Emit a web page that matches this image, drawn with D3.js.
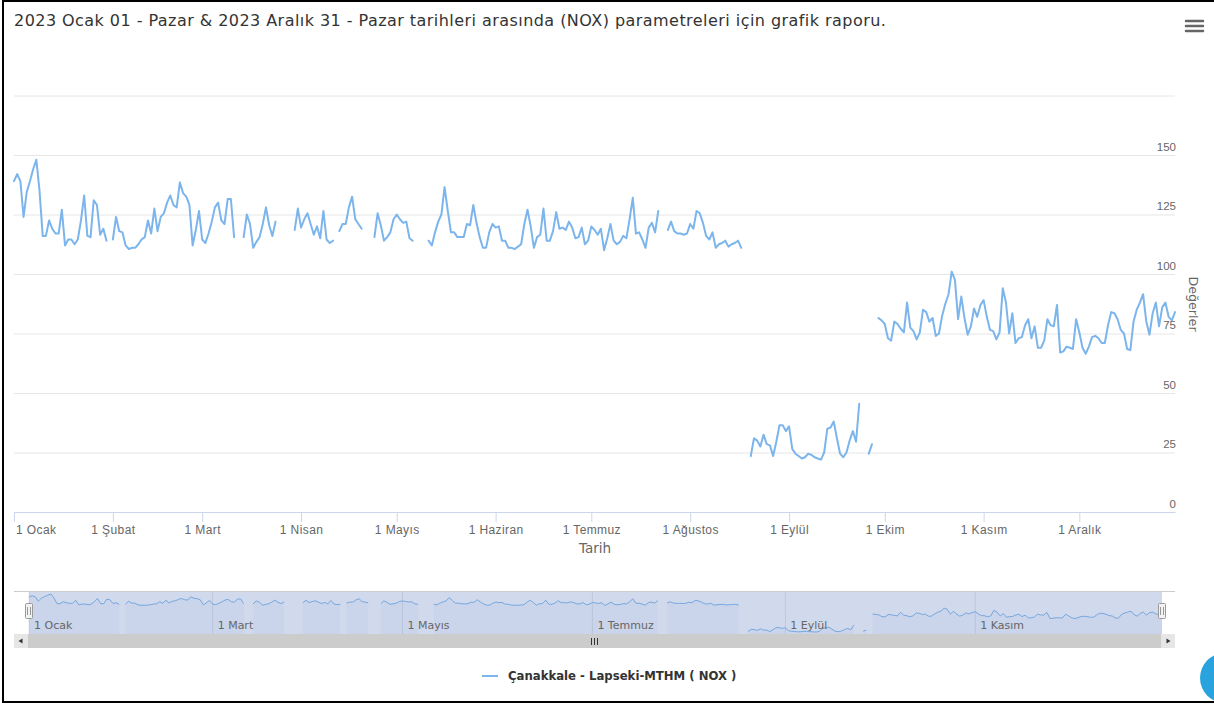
<!DOCTYPE html>
<html>
<head>
<meta charset="utf-8">
<script src="https://cdnjs.cloudflare.com/ajax/libs/d3/7.8.5/d3.min.js"></script>
<style>
body { margin: 0; background: #fff; }
svg { display: block; font-family: "DejaVu Sans", Verdana, sans-serif; }
</style>
</head>
<body>
<svg id="chart"></svg>
<script>
var width = 1214;
var height = 704;

var titleText = "2023 Ocak 01 - Pazar & 2023 Aralık 31 - Pazar tarihleri arasında (NOX) parametreleri için grafik raporu.";
var seriesName = "Çanakkale - Lapseki-MTHM ( NOX )";
var monthNames = ["Ocak", "Şubat", "Mart", "Nisan", "Mayıs", "Haziran", "Temmuz", "Ağustos", "Eylül", "Ekim", "Kasım", "Aralık"];
var navMonths = [0, 2, 4, 6, 8, 10];
var yGrid = [0, 25, 50, 75, 100, 125, 150, 175];
var yLabels = [0, 25, 50, 75, 100, 125, 150];

// daily NOX values, one array per month (null = no data)
var ocak = [139, 142, 139, 124, 134.5, 139, 144, 148, 135, 116, 116, 122.5, 119, 117, 117, 127, 112, 114.5, 114.5, 112.5, 114.5, 122.5, 133, 116, 115.5, 131, 129, 116.5, 119, 114, null];
var subat = [114.5, 124, 118, 117.5, 112, 110.5, 111, 111, 112.5, 114.5, 115.5, 122.5, 117, 127.5, 118, 124, 125.5, 130, 133, 129, 128, 138.5, 134, 132.5, 129, 112, 118.5, 126.5];
var mart = [114.5, 113, 117, 122, 128, 130, 122.5, 121, 131.5, 131.5, 115.5, null, null, 115.5, 125, 121, 111, 113.5, 115.5, 121, 128, 120.5, 116, 122, null, null, null, null, null, 118.5, 127.5];
var nisan = [119.5, 123, 125.5, 121, 116.5, 120, 115, 126.5, 114.5, 113, 114, null, 118, 121, 121, 128, 132.5, 123, 121, 119, null, null, null, 115.5, 125.5, 120.5, 114, 115.5, 117.5, 123];
var mayis = [125, 123, 121.5, 122, 115, 114, null, null, null, null, 114, 112, 117.5, 122, 125, 136.5, 126.5, 117.5, 117.5, 115.5, 115.5, 115.5, 121, 120.5, 129, 121.5, 115.5, 111, 111, 117.5, 121];
var haziran = [119.5, 120, 114, 114, 111, 111, 110.5, 111.5, 112.5, 121, 127, 120, 111, 115.5, 116.5, 127.5, 114, 114, 118, 126, 119, 119.5, 118.5, 122, 119.5, 115, 115.5, 119.5, 112.5, 114];
var temmuz = [120, 118.5, 116.5, 119, 110, 115, 121, 114, 112.5, 113.5, 116, 115, 123, 132, 117, 117.5, 114.5, 111, 119.5, 121.5, 117.5, 126.5, null, null, 118.5, 122, 118, 117, 117, 116.5, 117];
var agustos = [121, 119, 126.5, 125.5, 121.5, 116, 114.5, 117.5, 111, 112.5, 113, 114, 111.5, 112.5, 113, 114, 111, null, null, 23.5, 31, 30, 27.5, 32.5, 28.5, 28, 23.5, 29.5, 36.5, 36.5, 34];
var eylul = [36, 26.5, 24.5, 23.5, 22.5, 23, 24.5, 24, 23, 22.5, 22, 25, 35, 35.5, 38, 31, 24.5, 23, 25, 30, 34, 29.5, 45.5, null, null, 24.5, 28.5, null, 81.5, 80.5];
var ekim = [79, 73, 72, 80, 79, 77, 75.5, 88, 77.5, 76, 72.5, 75.5, 85, 84, 80, 81.5, 74, 75, 82.5, 87.5, 91.5, 101, 97.5, 81, 90.5, 81.5, 74.5, 78, 85.5, 82, 87];
var kasim = [89, 82, 76.5, 76, 72.5, 75.5, 94, 88, 75, 83.5, 71, 73, 73.5, 78.5, 81, 73, 78, 69, 69, 72, 81, 78.5, 78, 87, 67, 67.5, 69.5, 69, 68.5, 81];
var aralik = [75.5, 69, 66.5, 69.5, 73.5, 74, 73, 71, 71, 78.5, 84, 83.5, 81, 76.5, 75, 68.5, 68, 80, 85, 88, 91.5, 80, 74.5, 83.5, 88, 78, 86, 88, 82, 80.5, 84];

var values = [].concat(ocak, subat, mart, nisan, mayis, haziran, temmuz, agustos, eylul, ekim, kasim, aralik);
var days = d3.utcDay.range(Date.UTC(2023, 0, 1), Date.UTC(2024, 0, 1));
var data = days.map(function(d, i) { return {date: d, v: values[i]}; });

var svg = d3.select("#chart").attr("width", width).attr("height", height);

var x = d3.scaleUtc().domain([days[0], days[days.length - 1]]).range([14, 1175]);
var y = d3.scaleLinear().domain([0, 175]).range([512, 95.5]);

// title
svg.append("text").attr("x", 14).attr("y", 26)
    .attr("font-size", 16).attr("letter-spacing", 0.45).attr("fill", "#333").text(titleText);

// context menu button
[21, 26, 31].forEach(function(yy) {
    svg.append("line").attr("x1", 1186).attr("x2", 1203).attr("y1", yy).attr("y2", yy)
        .attr("stroke", "#666").attr("stroke-width", 2.5).attr("stroke-linecap", "round");
});

// grid
svg.append("g").attr("transform", "translate(14,0)")
    .call(d3.axisRight(y).tickValues(yGrid).tickSize(1161).tickFormat(""))
    .call(function(g) {
        g.select(".domain").remove();
        g.selectAll("line").attr("stroke", "#e6e6e6");
    });

// y labels, right side above grid lines
svg.append("g").attr("transform", "translate(1176,0)")
    .call(d3.axisLeft(y).tickValues(yLabels).tickSize(0).tickPadding(0))
    .call(function(g) {
        g.select(".domain").remove();
        g.selectAll("text").attr("dy", "-0.4em").attr("font-size", 11.5)
            .attr("font-family", null).attr("fill", "#666");
    });

svg.append("text").attr("transform", "translate(1189,304) rotate(90)")
    .attr("text-anchor", "middle").attr("font-size", 12.7).attr("fill", "#666").text("Değerler");

// x axis
var monthTicks = d3.utcMonth.range(Date.UTC(2023, 0, 1), Date.UTC(2024, 0, 1));
svg.append("g").attr("transform", "translate(0,512)")
    .call(d3.axisBottom(x).tickValues(monthTicks).tickSize(10).tickSizeOuter(0)
        .tickFormat(function(d) { return "1 " + monthNames[d.getUTCMonth()]; }))
    .call(function(g) {
        g.select(".domain").attr("stroke", "#ccd6eb");
        g.selectAll("line").attr("stroke", "#ccd6eb");
        g.selectAll("text").attr("font-size", 12).attr("letter-spacing", 0.4)
            .attr("font-family", null).attr("fill", "#666");
        // first label would hang off the left side
        g.selectAll("text").each(function() {
            var b = this.getBBox();
            var tx = +d3.select(this.parentNode).attr("transform").match(/translate\(([\d.]+)/)[1];
            if (tx + b.x < 16) d3.select(this).attr("text-anchor", "start").attr("x", 16 - tx);
        });
    });

svg.append("text").attr("x", 595).attr("y", 553).attr("text-anchor", "middle")
    .attr("font-size", 13.5).attr("fill", "#666").text("Tarih");

var line = d3.line()
    .defined(function(d) { return d.v != null; })
    .x(function(d) { return x(d.date); })
    .y(function(d) { return y(d.v); });

svg.append("path").datum(data).attr("d", line)
    .attr("fill", "none").attr("stroke", "#7cb5ec").attr("stroke-width", 2)
    .attr("stroke-linejoin", "round").attr("stroke-linecap", "round");

// navigator
var nx = d3.scaleUtc().domain(x.domain()).range([29, 1162]);
var ny = d3.scaleLinear().domain(d3.extent(values)).range([632, 594]);
var nav = svg.append("g");

nav.selectAll(".navgrid").data(navMonths).enter().append("line")
    .attr("x1", function(m) { return nx(new Date(Date.UTC(2023, m, 1))); })
    .attr("x2", function(m) { return nx(new Date(Date.UTC(2023, m, 1))); })
    .attr("y1", 591).attr("y2", 634).attr("stroke", "#e6e6e6");

nav.append("path").datum(data)
    .attr("d", d3.area()
        .defined(function(d) { return d.v != null; })
        .x(function(d) { return nx(d.date); })
        .y0(634)
        .y1(function(d) { return ny(d.v); }))
    .attr("fill", "rgba(51,92,173,0.05)");

nav.append("rect").attr("x", 29).attr("y", 591).attr("width", 1133).attr("height", 43)
    .attr("fill", "rgba(102,133,194,0.3)");

nav.append("path").datum(data)
    .attr("d", d3.line()
        .defined(function(d) { return d.v != null; })
        .x(function(d) { return nx(d.date); })
        .y(function(d) { return ny(d.v); }))
    .attr("fill", "none").attr("stroke", "#75a7df").attr("stroke-width", 1);

nav.selectAll(".navlabel").data(navMonths).enter().append("text")
    .attr("x", function(m) { return nx(new Date(Date.UTC(2023, m, 1))) + 5; })
    .attr("y", 629).attr("font-size", 11).attr("fill", "#666")
    .text(function(m) { return "1 " + monthNames[m]; });

nav.append("line").attr("x1", 14).attr("x2", 1175).attr("y1", 591.5).attr("y2", 591.5)
    .attr("stroke", "#cccccc");

[29, 1162].forEach(function(hx) {
    nav.append("rect").attr("x", hx - 3.5).attr("y", 603.5).attr("width", 7).attr("height", 15)
        .attr("rx", 1).attr("fill", "#f2f2f2").attr("stroke", "#999");
    [-1.5, 1.5].forEach(function(o) {
        nav.append("line").attr("x1", hx + o).attr("x2", hx + o).attr("y1", 607).attr("y2", 615)
            .attr("stroke", "#999");
    });
});

// scrollbar
var sb = svg.append("g");
sb.append("rect").attr("x", 14).attr("y", 634).attr("width", 1161).attr("height", 14).attr("fill", "#f2f2f2");
sb.append("rect").attr("x", 28).attr("y", 634).attr("width", 1133).attr("height", 14).attr("fill", "#cccccc");
sb.append("rect").attr("x", 14).attr("y", 634).attr("width", 14).attr("height", 14).attr("fill", "#e6e6e6");
sb.append("rect").attr("x", 1161).attr("y", 634).attr("width", 14).attr("height", 14).attr("fill", "#e6e6e6");
sb.append("path").attr("d", "M22.5,638.5 L18.5,641 L22.5,643.5 Z").attr("fill", "#333");
sb.append("path").attr("d", "M1166.5,638.5 L1170.5,641 L1166.5,643.5 Z").attr("fill", "#333");
[-3, 0, 3].forEach(function(o) {
    sb.append("line").attr("x1", 594.5 + o).attr("x2", 594.5 + o).attr("y1", 638).attr("y2", 645)
        .attr("stroke", "#333");
});

// legend
var legend = svg.append("g").attr("transform", "translate(482,676)");
legend.append("line").attr("x1", 0).attr("x2", 16).attr("stroke", "#7cb5ec").attr("stroke-width", 2);
legend.append("text").attr("x", 26).attr("y", 4).attr("font-size", 11.7).attr("font-weight", "bold")
    .attr("fill", "#333").text(seriesName);

// page frame and floating button
svg.append("rect").attr("x", 3).attr("y", 1).attr("width", 1230).attr("height", 701)
    .attr("fill", "none").attr("stroke", "#000").attr("stroke-width", 2);
svg.append("circle").attr("cx", 1225).attr("cy", 678).attr("r", 25).attr("fill", "#29a3de");
</script>
</body>
</html>
